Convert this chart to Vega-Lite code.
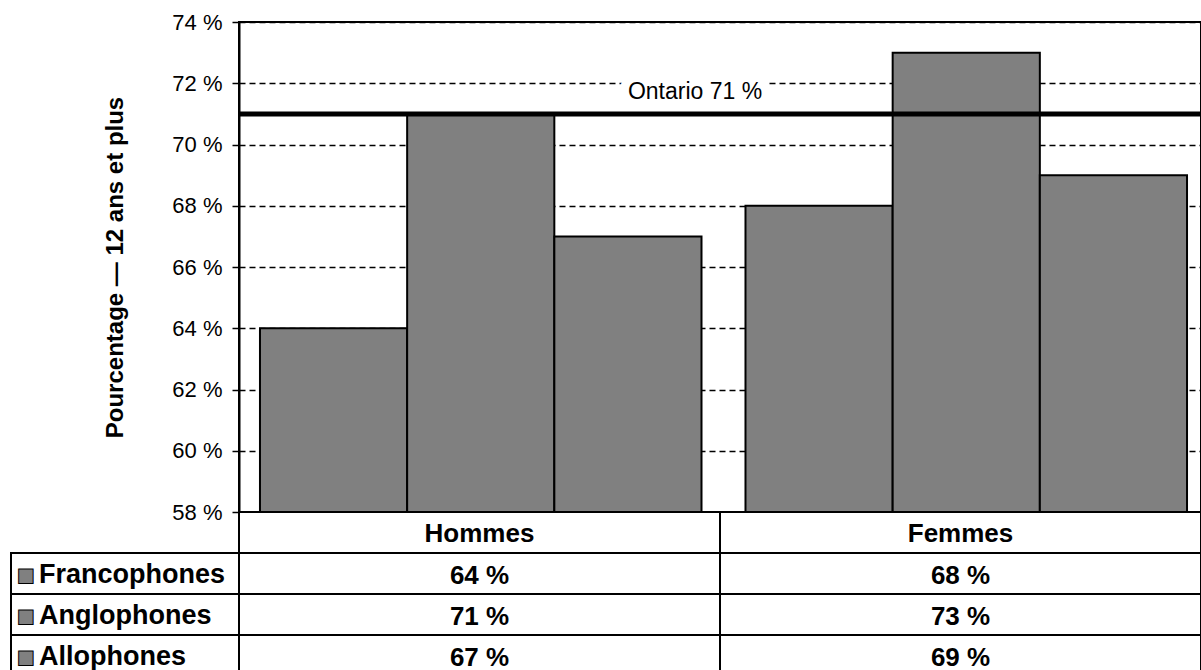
{
  "$schema": "https://vega.github.io/schema/vega-lite/v6.json",
  "background": "white",
  "padding": {"left": 10, "top": 10, "right": 0, "bottom": 0},
  "datasets": {
    "taux": [
      {"sexe": "Hommes", "langue": "Francophones", "pct": 64},
      {"sexe": "Hommes", "langue": "Anglophones", "pct": 71},
      {"sexe": "Hommes", "langue": "Allophones", "pct": 67},
      {"sexe": "Femmes", "langue": "Francophones", "pct": 68},
      {"sexe": "Femmes", "langue": "Anglophones", "pct": 73},
      {"sexe": "Femmes", "langue": "Allophones", "pct": 69}
    ],
    "ontario": [{"nom": "Ontario 71 %", "pct": 71}],
    "sexes": [{"sexe": "Hommes"}, {"sexe": "Femmes"}],
    "langues": [{"langue": "Francophones"}, {"langue": "Anglophones"}, {"langue": "Allophones"}]
  },
  "columns": 2,
  "spacing": 0,
  "bounds": "flush",
  "concat": [
    {
      "width": 228,
      "height": 490,
      "view": {"stroke": null},
      "data": {"values": []},
      "mark": {"type": "text", "text": ""},
      "encoding": {}
    },
    {
      "width": 962,
      "height": 490,
      "view": {"stroke": "black", "strokeWidth": 2},
      "encoding": {
        "y": {
          "field": "pct",
          "type": "quantitative",
          "title": "Pourcentage — 12 ans et plus",
          "scale": {"domain": [58, 74], "nice": false, "zero": false},
          "axis": {
            "values": [58, 60, 62, 64, 66, 68, 70, 72, 74],
            "labelExpr": "datum.value + ' %'",
            "labelFont": "Liberation Sans",
            "labelFontSize": 22,
            "labelColor": "black",
            "labelPadding": 10,
            "tickColor": "black",
            "tickSize": 7,
            "tickWidth": 1.5,
            "domainColor": "black",
            "domainWidth": 2,
            "grid": true,
            "gridColor": "black",
            "gridDash": [6, 4],
            "gridWidth": 1.5,
            "gridOpacity": 1,
            "titleFont": "Liberation Sans",
            "titleFontSize": 24,
            "titleFontWeight": "bold",
            "titleColor": "black",
            "titlePadding": 44
          }
        }
      },
      "layer": [
        {
          "data": {"name": "taux"},
          "mark": {"type": "bar", "fill": "#808080", "stroke": "black", "strokeWidth": 2},
          "encoding": {
            "x": {
              "field": "sexe",
              "type": "nominal",
              "sort": ["Hommes", "Femmes"],
              "scale": {"paddingInner": 0.0906, "paddingOuter": 0.036, "align": 0.6},
              "axis": null
            },
            "xOffset": {
              "field": "langue",
              "type": "nominal",
              "sort": ["Francophones", "Anglophones", "Allophones"],
              "scale": {"paddingInner": 0, "paddingOuter": 0}
            }
          }
        },
        {
          "data": {"name": "ontario"},
          "mark": {"type": "rule", "color": "black", "strokeWidth": 5}
        },
        {
          "data": {"name": "ontario"},
          "mark": {"type": "text", "font": "Liberation Sans", "fontSize": 23, "baseline": "alphabetic", "dx": -25, "dy": -15, "fill": "white", "stroke": "white", "strokeWidth": 18},
          "encoding": {"text": {"field": "nom"}}
        },
        {
          "data": {"name": "ontario"},
          "mark": {"type": "text", "font": "Liberation Sans", "fontSize": 23, "baseline": "alphabetic", "dx": -25, "dy": -15, "fill": "black"},
          "encoding": {"text": {"field": "nom"}}
        }
      ]
    },
    {
      "width": 228,
      "height": 164,
      "view": {"stroke": null},
      "data": {"name": "langues"},
      "encoding": {
        "y": {
          "field": "langue",
          "type": "nominal",
          "scale": {"domain": ["hdr", "Francophones", "Anglophones", "Allophones"], "paddingInner": 0, "paddingOuter": 0},
          "axis": null
        }
      },
      "layer": [
        {"mark": {"type": "rect", "fill": "white", "stroke": "black", "strokeWidth": 2}},
        {"mark": {"type": "text", "text": "■", "font": "DejaVu Sans", "fontSize": 19, "fill": "#808080", "stroke": "black", "strokeWidth": 1, "align": "center", "dx": -99, "dy": 1}},
        {
          "mark": {"type": "text", "font": "Liberation Sans", "fontWeight": "bold", "fontSize": 27, "align": "left", "dx": -86, "dy": 1, "fill": "black"},
          "encoding": {"text": {"field": "langue"}}
        }
      ]
    },
    {
      "width": 962,
      "height": 164,
      "view": {"stroke": null},
      "encoding": {
        "x": {
          "field": "sexe",
          "type": "nominal",
          "sort": ["Hommes", "Femmes"],
          "scale": {"paddingInner": 0, "paddingOuter": 0},
          "axis": null
        }
      },
      "layer": [
        {
          "data": {"name": "taux"},
          "mark": {"type": "rect", "fill": "white", "stroke": "black", "strokeWidth": 2},
          "encoding": {
            "y": {
              "field": "langue",
              "type": "nominal",
              "scale": {"domain": ["hdr", "Francophones", "Anglophones", "Allophones"], "paddingInner": 0, "paddingOuter": 0},
              "axis": null
            }
          }
        },
        {
          "data": {"name": "sexes"},
          "mark": {"type": "rect", "fill": "white", "stroke": "black", "strokeWidth": 2},
          "encoding": {"y": {"datum": "hdr"}}
        },
        {
          "data": {"name": "sexes"},
          "mark": {"type": "text", "font": "Liberation Sans", "fontWeight": "bold", "fontSize": 26, "dy": 1, "fill": "black"},
          "encoding": {"y": {"datum": "hdr"}, "text": {"field": "sexe"}}
        },
        {
          "data": {"name": "taux"},
          "mark": {"type": "text", "font": "Liberation Sans", "fontWeight": "bold", "fontSize": 26, "dy": 2, "fill": "black"},
          "encoding": {
            "y": {"field": "langue", "type": "nominal"},
            "text": {"field": "pct", "type": "quantitative", "format": "$.0f"}
          }
        }
      ]
    }
  ],
  "config": {
    "font": "Liberation Sans",
    "locale": {"number": {"decimal": ",", "thousands": " ", "grouping": [3], "currency": ["", " %"]}}
  }
}
